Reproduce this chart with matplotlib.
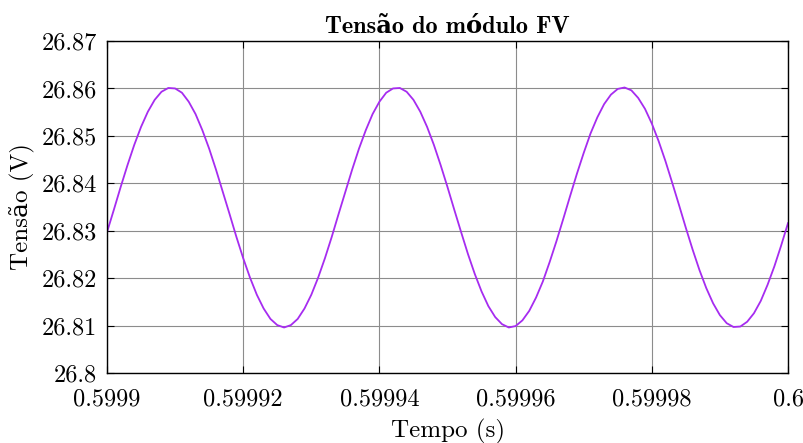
import matplotlib
matplotlib.use("Agg")
import matplotlib.pyplot as plt

# time in microseconds after 0.5999 s, step 1 us
t_us = list(range(0, 101))
tensao = [
    26.8297, 26.8344, 26.8392, 26.8438, 26.8481, 26.8519, 26.8551, 26.8576, 26.8593, 26.8601,
    26.8600, 26.8591, 26.8572, 26.8546, 26.8512, 26.8473, 26.8429, 26.8382, 26.8335, 26.8287,
    26.8242, 26.8201, 26.8165, 26.8136, 26.8114, 26.8101, 26.8096, 26.8101, 26.8114, 26.8136,
    26.8165, 26.8201, 26.8242, 26.8287, 26.8335, 26.8382, 26.8429, 26.8473, 26.8512, 26.8546,
    26.8572, 26.8591, 26.8600, 26.8601, 26.8593, 26.8576, 26.8551, 26.8519, 26.8481, 26.8438,
    26.8392, 26.8344, 26.8297, 26.8251, 26.8209, 26.8172, 26.8141, 26.8118, 26.8103, 26.8096,
    26.8099, 26.8111, 26.8131, 26.8159, 26.8193, 26.8234, 26.8278, 26.8325, 26.8373, 26.8420,
    26.8464, 26.8505, 26.8539, 26.8567, 26.8587, 26.8599, 26.8602, 26.8596, 26.8580, 26.8557,
    26.8526, 26.8489, 26.8447, 26.8401, 26.8354, 26.8306, 26.8260, 26.8217, 26.8179, 26.8147,
    26.8122, 26.8105, 26.8097, 26.8098, 26.8108, 26.8126, 26.8152, 26.8186, 26.8225, 26.8269,
    26.8316,
]
tempo = [0.5999 + v * 1e-6 for v in t_us]

xticks = [0.5999, 0.59992, 0.59994, 0.59996, 0.59998, 0.6]
xlabels = ["0.5999", "0.59992", "0.59994", "0.59996", "0.59998", "0.6"]
yticks = [26.80, 26.81, 26.82, 26.83, 26.84, 26.85, 26.86, 26.87]
ylabels = ["26.8", "26.81", "26.82", "26.83", "26.84", "26.85", "26.86", "26.87"]

plt.rcParams['font.family'] = ['cmr10', 'DejaVu Serif']
plt.rcParams['axes.formatter.use_mathtext'] = True

fig = plt.figure(figsize=(8.04, 4.43), dpi=100)
ax = fig.add_axes([0.1331, 0.158, 0.847, 0.7494])

ax.plot(tempo, tensao, color='#a62cf0', linewidth=1.3)

ax.set_xlim(0.5999, 0.6)
ax.set_ylim(26.80, 26.87)
ax.set_xticks(xticks)
ax.set_xticklabels(xlabels)
ax.set_yticks(yticks)
ax.set_yticklabels(ylabels)
ax.tick_params(direction='in', top=True, right=True, labelsize=17.5, length=5)
ax.tick_params(axis='x', pad=11)
ax.tick_params(axis='y', pad=7)
ax.grid(True, color='#8c8c8c', linewidth=0.8)
for s in ax.spines.values():
    s.set_linewidth(1.0)

ax.set_xlabel('Tempo (s)', fontsize=18, labelpad=6)
ax.set_ylabel('Tensão (V)', fontsize=18, labelpad=5)
ax.set_title('Tensão do módulo FV', fontsize=17.5, fontweight='bold',
             family=['cmb10', 'DejaVu Serif'], pad=6)

fig.savefig('out.png', dpi=100)
